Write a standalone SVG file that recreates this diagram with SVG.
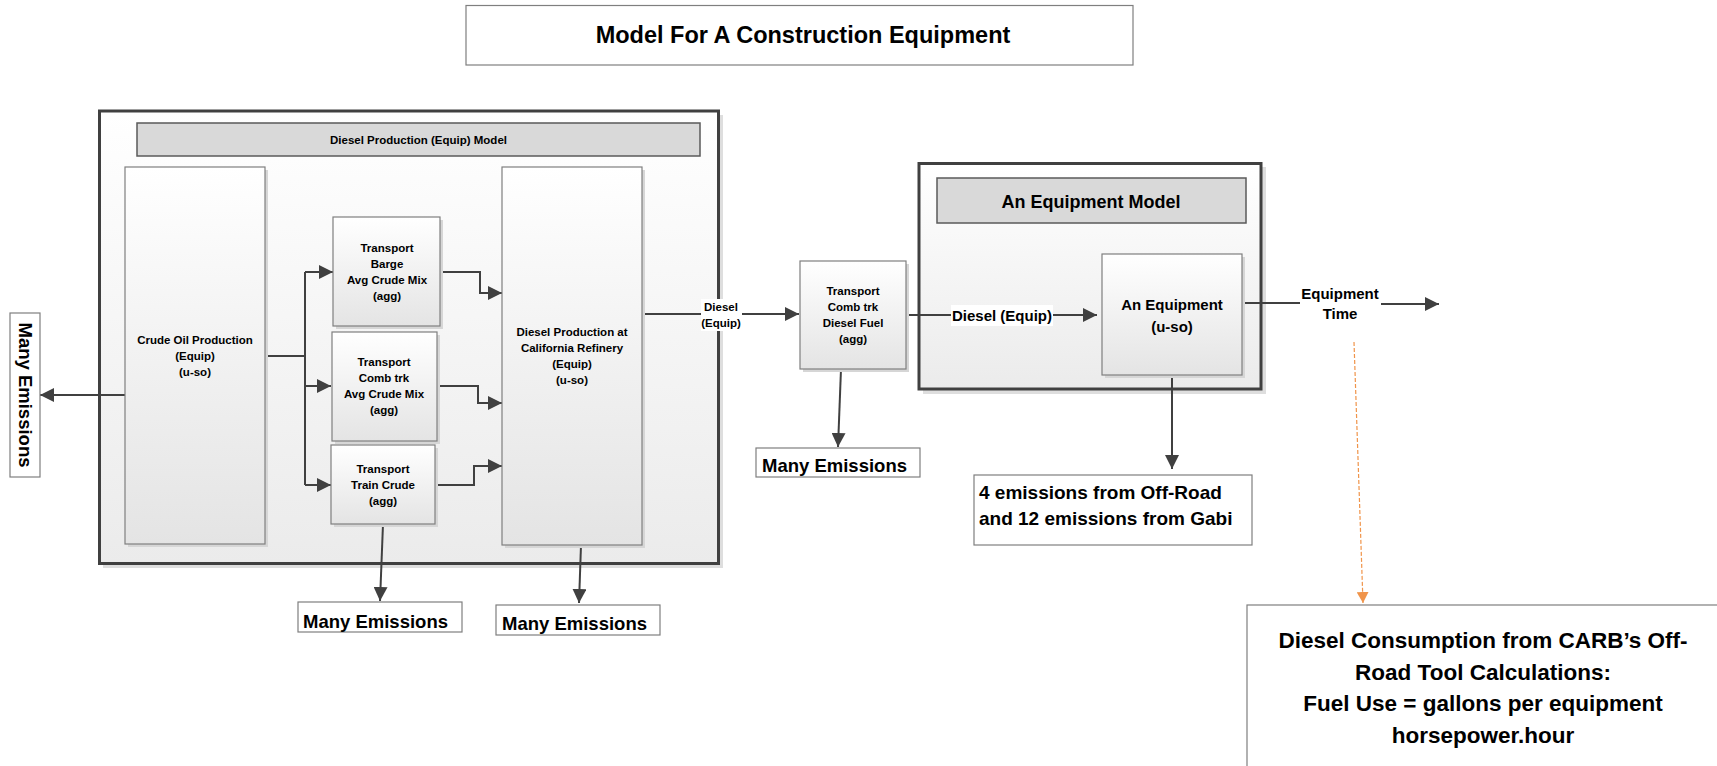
<svg xmlns="http://www.w3.org/2000/svg" width="1717" height="766" viewBox="0 0 1717 766">
<defs>
<linearGradient id="gNode" x1="0" y1="0" x2="0" y2="1"><stop offset="0" stop-color="#ffffff"/><stop offset="1" stop-color="#e4e4e4"/></linearGradient>
<linearGradient id="gCont" x1="0" y1="0" x2="0" y2="1"><stop offset="0" stop-color="#ffffff"/><stop offset="1" stop-color="#ebebeb"/></linearGradient>
<marker id="ah" markerUnits="userSpaceOnUse" markerWidth="15" markerHeight="14" refX="14" refY="7" orient="auto"><path d="M0,0 L14,7 L0,14 z" fill="#404040"/></marker>
<marker id="ao" markerUnits="userSpaceOnUse" markerWidth="12" markerHeight="12" refX="11" refY="6" orient="auto"><path d="M0,0 L11,6 L0,12 z" fill="#f0944a"/></marker>
</defs>
<style>
.cont{fill:url(#gCont);stroke:#404040;stroke-width:3}
.csh{fill:#dedede}
.hdr{fill:#d9d9d9;stroke:#5a5a5a;stroke-width:1.5}
.node{fill:url(#gNode);stroke:#7f7f7f;stroke-width:1.2}
.nsh{fill:#d6d6d6}
.box{fill:#ffffff;stroke:#7f7f7f;stroke-width:1.2}
.t{font-family:"Liberation Sans",Arial,sans-serif;font-weight:bold;fill:#000}
.s{font-size:11.5px;text-anchor:middle}
.m{font-size:15px;text-anchor:middle}
.me{font-size:18.5px}
.c{fill:none;stroke:#404040;stroke-width:2}
.lb{fill:#ffffff}
</style>

<g id="title">
<rect class="box" x="466" y="5.5" width="667" height="59.5"/>
<text class="t" x="803" y="42.5" font-size="23.5" text-anchor="middle">Model For A Construction Equipment</text>
</g>

<g id="diesel-production-model">
<rect class="csh" x="103" y="115" width="620" height="453"/>
<rect class="cont" x="99.5" y="111" width="619" height="452.5"/>
<rect class="hdr" x="137" y="123" width="563" height="33"/>
<text class="t s" x="418.5" y="144">Diesel Production (Equip) Model</text>
</g>

<g id="equipment-model">
<rect class="csh" x="923" y="167" width="343" height="227"/>
<rect class="cont" x="919" y="163.5" width="342" height="225.5"/>
<rect class="hdr" x="937" y="178" width="309" height="45"/>
<text class="t" x="1091" y="207.5" font-size="18" text-anchor="middle">An Equipment Model</text>
</g>

<g id="connectors">
<path class="c" d="M125,395 L40,395" marker-end="url(#ah)"/>
<path class="c" d="M265,356 L305,356"/>
<path class="c" d="M305,272 L305,485"/>
<path class="c" d="M305,272 L333,272" marker-end="url(#ah)"/>
<path class="c" d="M305,386 L331,386" marker-end="url(#ah)"/>
<path class="c" d="M305,485 L331,485" marker-end="url(#ah)"/>
<path class="c" d="M440,272 L480,272 L480,293 L502,293" marker-end="url(#ah)"/>
<path class="c" d="M437,386 L478,386 L478,403 L502,403" marker-end="url(#ah)"/>
<path class="c" d="M435,485 L474,485 L474,466 L502,466" marker-end="url(#ah)"/>
<path class="c" d="M383,524 L380,601" marker-end="url(#ah)"/>
<path class="c" d="M581,545 L579,603" marker-end="url(#ah)"/>
<path class="c" d="M642,314 L799,314" marker-end="url(#ah)"/>
<rect class="lb" x="701" y="299" width="41" height="32"/>
<text class="t s" x="721" y="311">Diesel</text>
<text class="t s" x="721" y="327">(Equip)</text>
<path class="c" d="M841,369 L838,447" marker-end="url(#ah)"/>
<path class="c" d="M906,315 L1097,315" marker-end="url(#ah)"/>
<rect class="lb" x="951" y="305" width="102" height="21"/>
<text class="t m" x="1002" y="320.5">Diesel (Equip)</text>
<path class="c" d="M1172,375 L1172,469" marker-end="url(#ah)"/>
<path class="c" d="M1242,303 L1300,303"/>
<text class="t m" x="1340" y="298.5">Equipment</text>
<text class="t m" x="1340" y="318.5">Time</text>
<path class="c" d="M1381,304 L1439,304" marker-end="url(#ah)"/>
<path d="M1354,342 L1363,603" fill="none" stroke="#f0944a" stroke-width="1.2" stroke-dasharray="4,2" marker-end="url(#ao)"/>
</g>

<g id="crude-oil-production">
<rect class="nsh" x="128" y="170" width="140" height="377"/>
<rect class="node" x="125" y="167" width="140" height="377"/>
<text class="t s" x="195" y="344">Crude Oil Production</text>
<text class="t s" x="195" y="360">(Equip)</text>
<text class="t s" x="195" y="376">(u-so)</text>
</g>

<g id="transport-barge">
<rect class="nsh" x="336" y="220" width="107" height="109"/>
<rect class="node" x="333" y="217" width="107" height="109"/>
<text class="t s" x="387" y="252">Transport</text>
<text class="t s" x="387" y="268">Barge</text>
<text class="t s" x="387" y="284">Avg Crude Mix</text>
<text class="t s" x="387" y="300">(agg)</text>
</g>

<g id="transport-combtrk-crude">
<rect class="nsh" x="335" y="335" width="105" height="109"/>
<rect class="node" x="332" y="332" width="105" height="109"/>
<text class="t s" x="384" y="366">Transport</text>
<text class="t s" x="384" y="382">Comb trk</text>
<text class="t s" x="384" y="398">Avg Crude Mix</text>
<text class="t s" x="384" y="414">(agg)</text>
</g>

<g id="transport-train">
<rect class="nsh" x="334" y="448" width="104" height="79"/>
<rect class="node" x="331" y="445" width="104" height="79"/>
<text class="t s" x="383" y="473">Transport</text>
<text class="t s" x="383" y="489">Train Crude</text>
<text class="t s" x="383" y="505">(agg)</text>
</g>

<g id="refinery">
<rect class="nsh" x="505" y="170" width="140" height="378"/>
<rect class="node" x="502" y="167" width="140" height="378"/>
<text class="t s" x="572" y="336">Diesel Production at</text>
<text class="t s" x="572" y="352">California Refinery</text>
<text class="t s" x="572" y="368">(Equip)</text>
<text class="t s" x="572" y="384">(u-so)</text>
</g>

<g id="transport-combtrk-diesel">
<rect class="nsh" x="803" y="264" width="106" height="108"/>
<rect class="node" x="800" y="261" width="106" height="108"/>
<text class="t s" x="853" y="295">Transport</text>
<text class="t s" x="853" y="311">Comb trk</text>
<text class="t s" x="853" y="327">Diesel Fuel</text>
<text class="t s" x="853" y="343">(agg)</text>
</g>

<g id="an-equipment">
<rect class="nsh" x="1105" y="257" width="140" height="121"/>
<rect class="node" x="1102" y="254" width="140" height="121"/>
<text class="t m" x="1172" y="309.5">An Equipment</text>
<text class="t m" x="1172" y="331.5">(u-so)</text>
</g>

<g id="emissions-left">
<rect class="box" x="10" y="313" width="30" height="164"/>
<text class="t me" transform="translate(25,395) rotate(90)" x="0" y="6.5" text-anchor="middle">Many Emissions</text>
</g>

<g id="emissions-train">
<rect class="box" x="298" y="602" width="164" height="30"/>
<text class="t me" x="303" y="627.5">Many Emissions</text>
</g>

<g id="emissions-refinery">
<rect class="box" x="496" y="605" width="164" height="30"/>
<text class="t me" x="502" y="629.5">Many Emissions</text>
</g>

<g id="emissions-diesel-transport">
<rect class="box" x="756" y="448" width="164" height="29"/>
<text class="t me" x="762" y="471.5">Many Emissions</text>
</g>

<g id="emissions-equipment">
<rect class="box" x="974" y="475" width="278" height="70"/>
<text class="t" x="979" y="499" font-size="19">4 emissions from Off-Road</text>
<text class="t" x="979" y="525" font-size="19">and 12 emissions from Gabi</text>
</g>

<g id="diesel-consumption">
<rect class="box" x="1247" y="605" width="480" height="170"/>
<text class="t" x="1483" y="648" font-size="22.5" text-anchor="middle">Diesel Consumption from CARB’s Off-</text>
<text class="t" x="1483" y="679.5" font-size="22.5" text-anchor="middle">Road Tool Calculations:</text>
<text class="t" x="1483" y="711" font-size="22.5" text-anchor="middle">Fuel Use = gallons per equipment</text>
<text class="t" x="1483" y="742.5" font-size="22.5" text-anchor="middle">horsepower.hour</text>
</g>
</svg>
